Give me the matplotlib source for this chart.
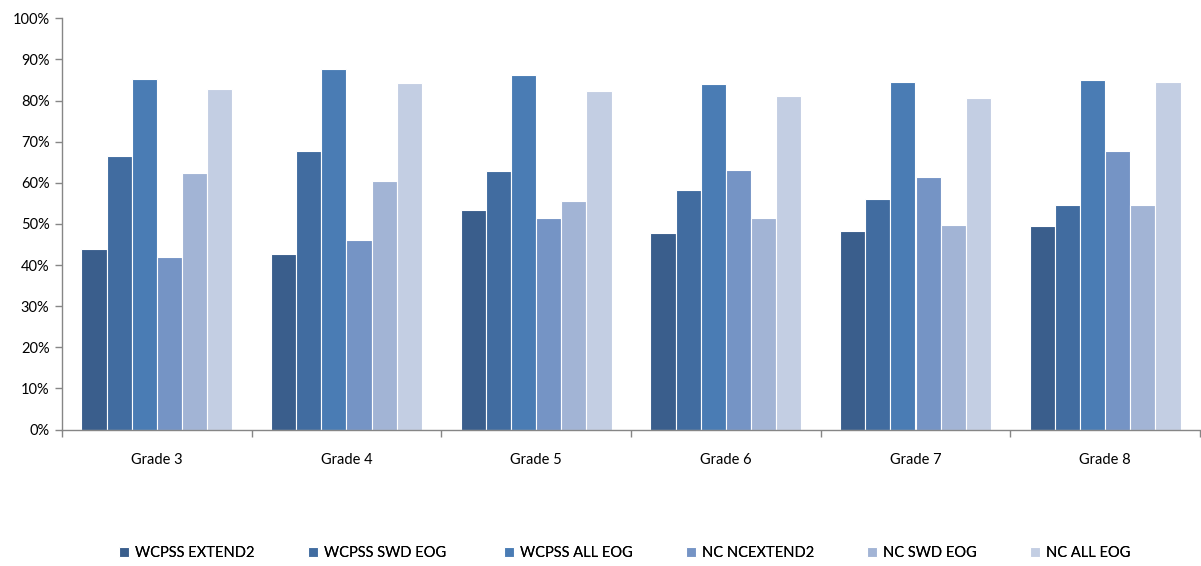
import matplotlib
matplotlib.use("Agg")
import matplotlib.pyplot as plt
import numpy as np
from matplotlib.ticker import FuncFormatter, FixedLocator

grades = ["Grade 3", "Grade 4", "Grade 5", "Grade 6", "Grade 7", "Grade 8"]
series_names = ["WCPSS EXTEND2", "WCPSS SWD EOG", "WCPSS ALL EOG",
                "NC NCEXTEND2", "NC SWD EOG", "NC ALL EOG"]

wcpss_extend2 = [43.8, 42.8, 53.5, 47.7, 48.2, 49.4]
wcpss_swd_eog = [66.4, 67.8, 62.8, 58.3, 56.1, 54.6]
wcpss_all_eog = [85.3, 87.6, 86.2, 84.0, 84.5, 84.9]
nc_ncextend2 = [42.0, 46.0, 51.4, 63.2, 61.5, 67.8]
nc_swd_eog = [62.4, 60.4, 55.6, 51.5, 49.8, 54.6]
nc_all_eog = [82.9, 84.2, 82.2, 81.0, 80.7, 84.5]

series = [wcpss_extend2, wcpss_swd_eog, wcpss_all_eog,
          nc_ncextend2, nc_swd_eog, nc_all_eog]
colors = ["#3A5E8C", "#416CA0", "#4A7CB4", "#7594C5", "#A2B4D5", "#C3CEE3"]

plt.rcParams["font.family"] = ["Lato", "DejaVu Sans"]

W, H = 1201, 566
fig = plt.figure(figsize=(W / 100, H / 100), dpi=100)
ax = fig.add_axes([62 / W, (H - 429.5) / H, (1200 - 62) / W, (429.5 - 18.3) / H])

x = np.arange(len(grades))
width = 0.1325
n = len(series)
handles = []
for i, (vals, col, name) in enumerate(zip(series, colors, series_names)):
    offs = (i - (n - 1) / 2) * width
    bars = ax.bar(x + offs, vals, width=width, color=col, edgecolor="white",
                  linewidth=0.8, label=name, zorder=2)
    handles.append(bars)

ax.set_xlim(-0.5, len(grades) - 0.5)
ax.set_ylim(0, 100)
ax.set_yticks(np.arange(0, 101, 10))
ax.yaxis.set_major_formatter(FuncFormatter(lambda v, p: f"{int(v)}%"))

ax.set_xticks(x)
ax.set_xticklabels(grades)
ax.xaxis.set_minor_locator(FixedLocator(np.arange(-0.5, len(grades), 1.0)))
ax.tick_params(axis="x", which="major", length=0, pad=17, labelsize=10.5, colors="#000000")
ax.tick_params(axis="x", which="minor", length=5, width=1, color="#868686", direction="out")
ax.tick_params(axis="y", length=5, width=1, color="#868686", labelsize=10.5, pad=4)

for s in ["top", "right"]:
    ax.spines[s].set_visible(False)
for s in ["left", "bottom"]:
    ax.spines[s].set_color("#868686")
    ax.spines[s].set_linewidth(1)

# legend entries placed individually along the bottom
legend_x = [119, 308, 504, 686, 867, 1030]
for h, name, lx in zip(handles, series_names, legend_x):
    leg = fig.legend(handles=[h], labels=[name], loc="center left",
                     bbox_to_anchor=(lx / W, 1 - 553 / H), frameon=False,
                     fontsize=10.5, handlelength=0.7, handleheight=0.7,
                     handletextpad=0.4, borderpad=0, borderaxespad=0)
    fig.add_artist(leg)

fig.savefig("out.png", dpi=100)
